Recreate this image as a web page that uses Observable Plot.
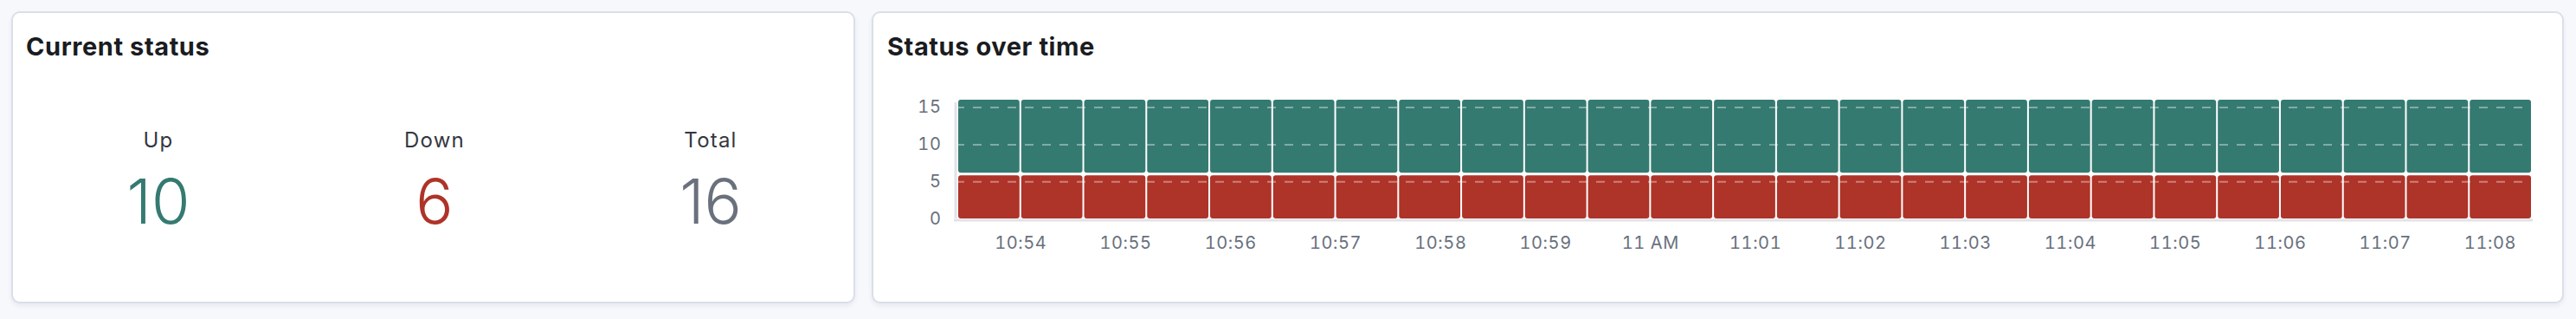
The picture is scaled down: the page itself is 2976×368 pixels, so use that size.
<!DOCTYPE html>
<html>
<head>
<meta charset="utf-8">
<script src="https://cdn.jsdelivr.net/npm/d3@7"></script>
<script src="https://cdn.jsdelivr.net/npm/@observablehq/plot@0.6"></script>
<style>
  html, body { margin: 0; padding: 0; }
  body { width: 2976px; height: 368px; background: #f7f8fc; position: relative; overflow: hidden; font-family: Inter, "Noto Sans", sans-serif; }
  .card { position: absolute; background: #fff; border: 2px solid #d9dfea; border-radius: 10px; box-sizing: border-box; box-shadow: 0 3px 5px rgba(60,70,100,0.08); }
  .title { position: absolute; font-size: 29px; line-height: 29px; font-weight: 700; color: #1a1c21; white-space: nowrap; letter-spacing: 0.02em; }
  .statLabel { position: absolute; width: 300px; text-align: center; font-size: 24px; line-height: 24px; color: #343741; letter-spacing: 0.05em; }
  .statValue { position: absolute; width: 300px; text-align: center; font-size: 72px; line-height: 72px; font-weight: 300; }
  #chart { position: absolute; left: 1020px; top: 100px; }
  #chart svg text { font-variant-numeric: tabular-nums; letter-spacing: 0.03em; }
</style>
</head>
<body>
<div class="card" style="left:13px; top:13px; width:975px; height:337px;"></div>
<div class="card" style="left:1007px; top:13px; width:1955px; height:337px;"></div>
<div class="title" style="left:30px; top:39px;">Current status</div>
<div class="title" style="left:1025px; top:39px;">Status over time</div>
<div id="stats"></div>
<div id="chart"></div>
<script>
// ---- data ----
const statLabels = ["Up", "Down", "Total"];
const statValues = [10, 6, 16];
const statColors = ["#357a71", "#ae3328", "#6a717d"];

const binStarts = ["10:53:24","10:54:00","10:54:36","10:55:12","10:55:48","10:56:24","10:57:00","10:57:36","10:58:12","10:58:48","10:59:24","11:00:00","11:00:36","11:01:12","11:01:48","11:02:24","11:03:00","11:03:36","11:04:12","11:04:48","11:05:24","11:06:00","11:06:36","11:07:12","11:07:48"];
const binEnd = "11:08:24";
const upCounts   = [10,10,10,10,10,10,10,10,10,10,10,10,10,10,10,10,10,10,10,10,10,10,10,10,10];
const downCounts = [6,6,6,6,6,6,6,6,6,6,6,6,6,6,6,6,6,6,6,6,6,6,6,6,6];

const xTickTimes  = ["10:54","10:55","10:56","10:57","10:58","10:59","11:00","11:01","11:02","11:03","11:04","11:05","11:06","11:07","11:08"];
const xTickLabels = ["10:54","10:55","10:56","10:57","10:58","10:59","11 AM","11:01","11:02","11:03","11:04","11:05","11:06","11:07","11:08"];
const yTicks = [0, 5, 10, 15];
const gridValues = [5, 10, 15];

// ---- stats panel ----
const statCenters = [183, 502, 821];
const stats = document.getElementById("stats");
statLabels.forEach((lab, i) => {
  const l = document.createElement("div");
  l.className = "statLabel";
  l.style.left = (statCenters[i] - 150) + "px";
  l.style.top = "150px";
  l.textContent = lab;
  stats.appendChild(l);
  const v = document.createElement("div");
  v.className = "statValue";
  v.style.left = (statCenters[i] - 150) + "px";
  v.style.top = "196px";
  v.style.color = statColors[i];
  v.textContent = statValues[i];
  stats.appendChild(v);
});

// ---- chart ----
const parseS = d3.timeParse("%H:%M:%S");
const parseM = d3.timeParse("%H:%M");
const rows = binStarts.map((s, i) => ({
  start: parseS(s),
  end: parseS(i + 1 < binStarts.length ? binStarts[i + 1] : binEnd),
  up: upCounts[i],
  down: downCounts[i]
}));
const domainStart = rows[0].start;
const domainEnd = rows[rows.length - 1].end;
const tickDates = xTickTimes.map(parseM);
const labelMap = new Map(tickDates.map((d, i) => [+d, xTickLabels[i]]));

const GREEN = "#357a71", RED = "#ae3328", AXIS = "#e2e3e7";

const chart = Plot.plot({
  width: 1920,
  height: 200,
  marginLeft: 86,
  marginRight: 15,
  marginTop: 15,
  marginBottom: 48,
  style: { fontFamily: "Inter, 'Noto Sans', sans-serif", fontSize: "20px", color: "#69707d", background: "transparent", overflow: "visible" },
  x: { type: "time", domain: [domainStart, domainEnd], ticks: tickDates, tickFormat: d => labelMap.get(+d) ?? "", tickSize: 0, tickPadding: 20, label: null },
  y: { domain: [0, 16], ticks: yTicks, tickSize: 0, tickPadding: 19, label: null },
  marks: [
    Plot.ruleX([domainStart], { y1: 0, y2: 16, stroke: AXIS, strokeWidth: 3, dx: -2.5, insetBottom: -3 }),
    Plot.ruleY([0], { x1: domainStart, x2: domainEnd, stroke: AXIS, strokeWidth: 3, dy: 1.5, insetLeft: -4, insetRight: -1 }),
    Plot.rect(rows, { x1: "start", x2: "end", y1: 0, y2: "down", fill: RED, insetLeft: 1, insetRight: 1, insetTop: 1.5, rx: 3 }),
    Plot.rect(rows, { x1: "start", x2: "end", y1: "down", y2: d => d.down + d.up, fill: GREEN, insetLeft: 1, insetRight: 1, insetBottom: 1.5, rx: 3 }),
    Plot.ruleY(gridValues, { stroke: "#ffffff", strokeOpacity: 0.38, strokeWidth: 2, strokeDasharray: "10,10", strokeDashoffset: 2 })
  ]
});
document.getElementById("chart").appendChild(chart);
</script>
</body>
</html>
